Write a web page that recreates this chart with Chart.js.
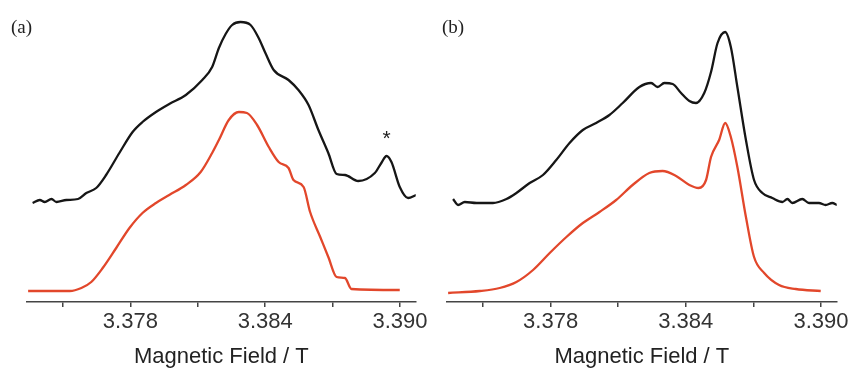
<!DOCTYPE html>
<html>
<head>
<meta charset="utf-8">
<script src="https://cdn.jsdelivr.net/npm/chart.js@4/dist/chart.umd.min.js"></script>
<style>
  body { margin:0; background:#fff; width:851px; height:368px; overflow:hidden; position:relative; }
  .panel { position:absolute; top:0; }
  .tag { position:absolute; top:17px; font-family:"Liberation Serif","Times New Roman",serif; font-size:19px; line-height:19px; color:#222; }
</style>
</head>
<body>
<div class="panel" style="left:0"><canvas id="chart-a" width="430" height="368"></canvas></div>
<div class="panel" style="left:420px"><canvas id="chart-b" width="431" height="368"></canvas></div>
<div class="tag" style="left:11px">(a)</div>
<div class="tag" style="left:442px">(b)</div>
<script>
// -------------------------
// DATA (field in T, intensity in arb. units)
// -------------------------
const fieldAExp = [3.37365,3.37397,3.37419,3.37449,3.37471,3.37515,3.37567,3.37604,3.37648,3.37692,3.37751,3.37810,3.37854,3.37914,3.37973,3.38047,3.38120,3.38164,3.38194,3.38224,3.38253,3.38290,3.38335,3.38371,3.38401,3.38438,3.38504,3.38548,3.38593,3.38637,3.38681,3.38718,3.38755,3.38814,3.38888,3.38917,3.38940,3.38962,3.38999,3.39036,3.39072];
const intAExp   = [99,102,100,103,100,102,103,109,114,127,149,170,180,190,198,207,222,235,254,268,277,280,277,264,249,232,222,212,197,172,149,128,127,121,129,139,146,140,115,104,107];

const fieldASim = [3.37345,3.37530,3.37582,3.37626,3.37677,3.37737,3.37796,3.37854,3.37914,3.37973,3.38047,3.38113,3.38164,3.38194,3.38238,3.38283,3.38319,3.38364,3.38416,3.38460,3.38504,3.38526,3.38571,3.38600,3.38645,3.38681,3.38718,3.38755,3.38784,3.38999];
const intASim   = [11,11,14,20,34,54,74,89,99,107,117,130,149,162,182,190,189,177,155,140,134,122,115,90,65,45,25,24,13,12];

const fieldBExp = [3.37367,3.37389,3.37419,3.37471,3.37544,3.37604,3.37648,3.37707,3.37766,3.37825,3.37884,3.37943,3.38002,3.38061,3.38120,3.38194,3.38246,3.38275,3.38305,3.38342,3.38379,3.38416,3.38445,3.38482,3.38512,3.38541,3.38575,3.38600,3.38629,3.38667,3.38703,3.38740,3.38784,3.38829,3.38851,3.38873,3.38917,3.38947,3.38991,3.39021,3.39050,3.39072];
const intBExp   = [103,97,100,99,99,103,109,119,127,142,159,172,179,187,199,215,219,215,219,218,209,201,199,209,230,259,270,255,215,162,122,109,104,100,103,99,103,99,99,97,99,97];

const fieldBSim = [3.37345,3.37486,3.37574,3.37648,3.37722,3.37796,3.37870,3.37943,3.38017,3.38091,3.38164,3.38238,3.38297,3.38357,3.38416,3.38457,3.38490,3.38512,3.38548,3.38575,3.38600,3.38629,3.38667,3.38703,3.38748,3.38814,3.38888,3.38999];
const intBSim   = [9,11,14,20,32,49,65,79,90,102,117,129,131,126,117,114,122,145,162,179,165,135,85,45,29,17,13,11];

const tickValues = [3.375,3.378,3.381,3.384,3.387,3.390];
const tickLabels = ["3.378","3.384","3.390"];
const axisTitle = "Magnetic Field / T";
const asteriskField = 3.3894;
const asteriskLevel = 169;

// -------------------------
// Helpers
// -------------------------
const toPoints = (xs, ys) => xs.map((x, i) => ({ x: x, y: ys[i] }));
const lineSet = (xs, ys, color) => ({
  data: toPoints(xs, ys), borderColor: color, borderWidth: 2.3,
  pointRadius: 0, cubicInterpolationMode: 'monotone', fill: false
});

// asterisk over the impurity line in (a)
const asteriskPlugin = {
  id: 'asterisk',
  afterDatasetsDraw(chart) {
    const ctx = chart.ctx;
    const x = chart.scales.x.getPixelForValue(asteriskField);
    const y = chart.scales.y.getPixelForValue(asteriskLevel);
    ctx.save();
    ctx.fillStyle = '#222';
    ctx.font = '21px "Liberation Sans", Arial, sans-serif';
    ctx.textAlign = 'center';
    ctx.textBaseline = 'alphabetic';
    ctx.fillText('*', x, y + 12);
    ctx.restore();
  }
};

function makePanel(id, expX, expY, simX, simY, rightPad, plugins) {
  const ctx = document.getElementById(id).getContext('2d');
  return new Chart(ctx, {
    type: 'line',
    data: { datasets: [lineSet(expX, expY, '#161616'), lineSet(simX, simY, '#e2472b')] },
    options: {
      responsive: false, animation: false,
      layout: { padding: { left: 27, right: rightPad, top: 12, bottom: 0 } },
      plugins: { legend: { display: false }, tooltip: { enabled: false } },
      scales: {
        x: {
          type: 'linear', min: 3.3734, max: 3.3907,
          afterBuildTicks: s => { s.ticks = tickValues.map(v => ({ value: v })); },
          afterFit: s => { s.height = 66; },
          ticks: {
            autoSkip: false, maxRotation: 0, padding: 2, color: '#333',
            font: { family: '"Liberation Sans", Arial, sans-serif', size: 22 },
            callback: v => tickLabels.find(t => Math.abs(parseFloat(t) - v) < 1e-6) || ''
          },
          grid: { drawOnChartArea: false, drawTicks: true, tickLength: 5, color: '#444', lineWidth: 1.5 },
          border: { display: true, color: '#444', width: 1.5 },
          title: {
            display: true, text: axisTitle, color: '#222', padding: { top: 0, bottom: 0 },
            font: { family: '"Liberation Sans", Arial, sans-serif', size: 22, lineHeight: 1 }
          }
        },
        y: { display: false, min: 0, max: 290 }
      }
    },
    plugins: plugins
  });
}

// -------------------------
// Start
// -------------------------
makePanel('chart-a', fieldAExp, intAExp, fieldASim, intASim, 12, [asteriskPlugin]);
makePanel('chart-b', fieldBExp, intBExp, fieldBSim, intBSim, 13, []);
</script>
</body>
</html>
